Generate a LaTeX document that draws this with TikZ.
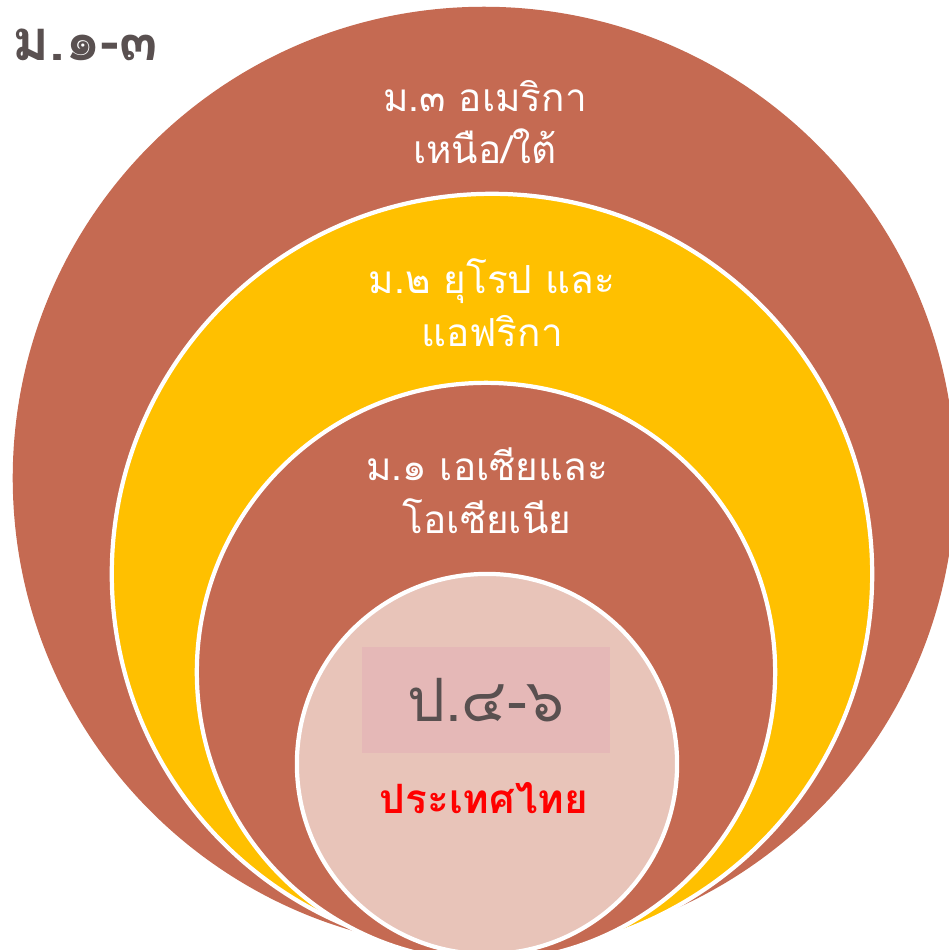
\documentclass[tikz,border=0pt]{standalone}
\usepackage{fontspec}
\usepackage{tikz}
\usetikzlibrary{positioning, calc}
\newfontfamily\thaifont[Script=Thai]{Loma}
\definecolor{ringbrown}{RGB}{197, 106, 82}
\definecolor{ringgold}{RGB}{255, 192, 0}
\definecolor{corepink}{RGB}{232, 196, 185}
\definecolor{tagpink}{RGB}{229, 184, 183}
\definecolor{darktext}{RGB}{89, 80, 80}

\begin{document}
\begin{tikzpicture}[
    x=0.01cm, y=-0.01cm,
    ring/.style={circle, fill=#1, inner sep=0pt},
    inring/.style={circle, fill=#1, draw=white, line width=1.2pt, inner sep=0pt},
    ringtext/.style={text=white, align=center, font=\thaifont\fontsize{11}{15}\selectfont},
    tagbox/.style={rectangle, fill=tagpink, inner sep=0pt, minimum width=2.48cm, minimum height=1.06cm}
]
\useasboundingbox (0,0) rectangle (949,950);
\clip (0,0) rectangle (949,950);

% Circles, all touching at the bottom
\node[ring=ringbrown, minimum size=9.42cm] (grade3) at (484,478) {};
\node[inring=ringgold, minimum size=7.60cm] (grade2) at (492,574) {};
\node[inring=ringbrown, minimum size=5.78cm] (grade1) at (486,672) {};
\node[inring=corepink, minimum size=3.80cm] (primary) at (487,764) {};

% Ring labels
\node[ringtext] (grade3text) at (485,122) {ม.๓ อเมริกา\\เหนือ/ใต้};
\node[ringtext] (grade2text) at (492,303) {ม.๒ ยุโรป และ\\แอฟริกา};
\node[ringtext] (grade1text) at (487,491) {ม.๑ เอเซียและ\\โอเซียเนีย};

% Core
\node[tagbox] (primarytag) at (486,700) {};
\node[text=darktext, font=\thaifont\fontsize{17}{19}\selectfont] (primarylabel) at (primarytag) {ป.๔-๖};
\node[text=red, font=\thaifont\bfseries\fontsize{11.5}{14}\selectfont] (thailand) at (484,798) {ประเทศไทย};

% Level heading
\node[anchor=west, text=darktext, font=\thaifont\bfseries\fontsize{16}{18}\selectfont] (levels) at (0,45) {ม.๑-๓};

\end{tikzpicture}
\end{document}
